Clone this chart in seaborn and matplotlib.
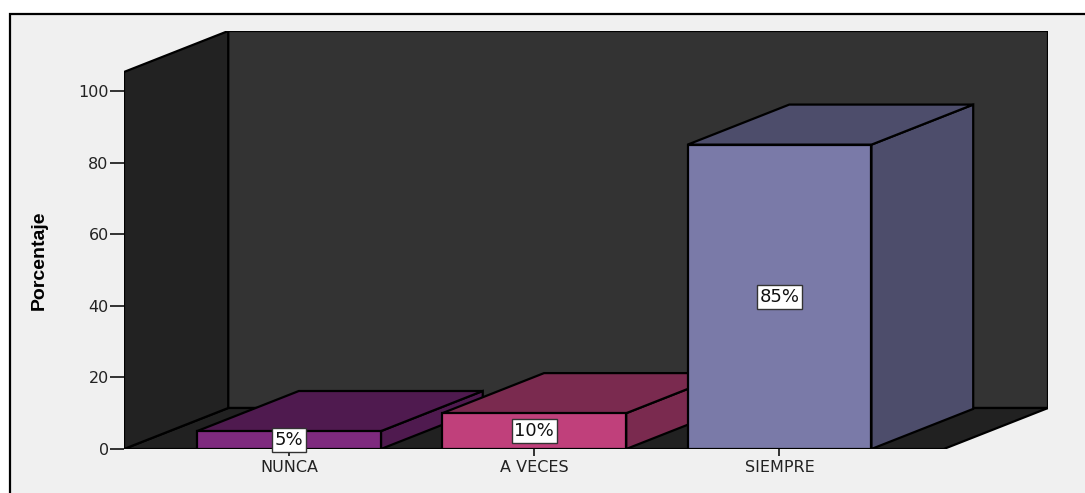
import matplotlib
matplotlib.use("Agg")
import matplotlib.pyplot as plt
from matplotlib.patches import Polygon, Rectangle
import seaborn as sns

# Survey answers and their share of respondents (%)
categories = ["NUNCA", "A VECES", "SIEMPRE"]
percentages = [5, 10, 85]
value_labels = ["5%", "10%", "85%"]
y_ticks = [0, 20, 40, 60, 80, 100]

front_colors = ["#7e2a7e", "#c0407b", "#7a7aa8"]
shade_colors = ["#4f1a4f", "#7a2a4f", "#4d4d6b"]

sns.set_theme(style="white")
plt.rcParams["font.family"] = ["DejaVu Sans"]

fig = plt.figure(figsize=(10.85, 4.93), dpi=100, facecolor="white")

# light panel with a black frame on its left and top sides
fig.patches.append(Rectangle((10 / 1085, -0.2), 1.2, 0.2 + (493 - 14) / 493,
                             transform=fig.transFigure, facecolor="#f0f0f0",
                             edgecolor="black", linewidth=1.6, zorder=-5))

ax = fig.add_axes([124 / 1085, (493 - 449) / 493, 924 / 1085, 418 / 493])
ax.set_facecolor("none")
ax.set_zorder(1)

# room geometry (oblique projection: depth goes up and to the right)
x_front_left, x_front_right = -0.673, 2.67
wall_top = 105.3
depth_x, depth_y = 0.425, 11.45
bar_depth_x, bar_depth_y = 0.415, 11.2

edge = dict(edgecolor="black", linewidth=1.6, joinstyle="miter")

sns.barplot(x=categories, y=percentages, hue=categories, palette=front_colors,
            saturation=1, width=0.75, edgecolor="black", linewidth=1.6,
            legend=False, ax=ax, zorder=3)
bars = [p for c in ax.containers for p in c]

ax.set_xlim(x_front_left, x_front_right + depth_x)
ax.set_ylim(0, wall_top + depth_y)

back_wall = Polygon([(x_front_left + depth_x, depth_y),
                     (x_front_right + depth_x, depth_y),
                     (x_front_right + depth_x, wall_top + depth_y),
                     (x_front_left + depth_x, wall_top + depth_y)],
                    closed=True, facecolor="#333333", zorder=0.5, **edge)
floor = Polygon([(x_front_left, 0), (x_front_right, 0),
                 (x_front_right + depth_x, depth_y),
                 (x_front_left + depth_x, depth_y)],
                closed=True, facecolor="#212121", zorder=0.6, **edge)
left_wall = Polygon([(x_front_left, 0), (x_front_left, wall_top),
                     (x_front_left + depth_x, wall_top + depth_y),
                     (x_front_left + depth_x, depth_y)],
                    closed=True, facecolor="#222222", zorder=0.7, **edge)
for p in (back_wall, floor, left_wall):
    ax.add_patch(p)

# give each bar a top and a right side, then put its front face above them
for i, (bar, shade, text) in enumerate(zip(bars, shade_colors, value_labels)):
    x0 = bar.get_x()
    x1 = x0 + bar.get_width()
    h = bar.get_height()
    top = Polygon([(x0, h), (x1, h), (x1 + bar_depth_x, h + bar_depth_y),
                   (x0 + bar_depth_x, h + bar_depth_y)],
                  closed=True, facecolor=shade, zorder=2 + 2 * i, **edge)
    side = Polygon([(x1, 0), (x1 + bar_depth_x, bar_depth_y),
                    (x1 + bar_depth_x, h + bar_depth_y), (x1, h)],
                   closed=True, facecolor=shade, zorder=2 + 2 * i, **edge)
    ax.add_patch(side)
    ax.add_patch(top)
    bar.set_zorder(3 + 2 * i)
    ax.text((x0 + x1) / 2, h / 2, text, ha="center", va="center",
            fontsize=13, color="#111111", zorder=20,
            bbox=dict(boxstyle="square,pad=0.15", facecolor="white",
                      edgecolor="#333333", linewidth=1.0))

for s in ax.spines.values():
    s.set_visible(False)

ax.set_yticks(y_ticks)
ax.set_yticklabels([str(t) for t in y_ticks])
ax.tick_params(axis="y", left=True, length=10, width=1.3, color="#222222",
               pad=1, labelsize=11.5, labelcolor="#222222")
ax.tick_params(axis="x", bottom=True, length=5, width=1.3, color="#222222",
               pad=3, labelsize=11.5, labelcolor="#222222")
ax.set_xlabel("")
ax.set_ylabel("Porcentaje", fontsize=14, fontweight="bold",
              family=["Liberation Sans", "DejaVu Sans"], color="black")
ax.yaxis.set_label_coords(-0.083, 0.452)

fig.savefig("out.png", dpi=100, facecolor="white")
